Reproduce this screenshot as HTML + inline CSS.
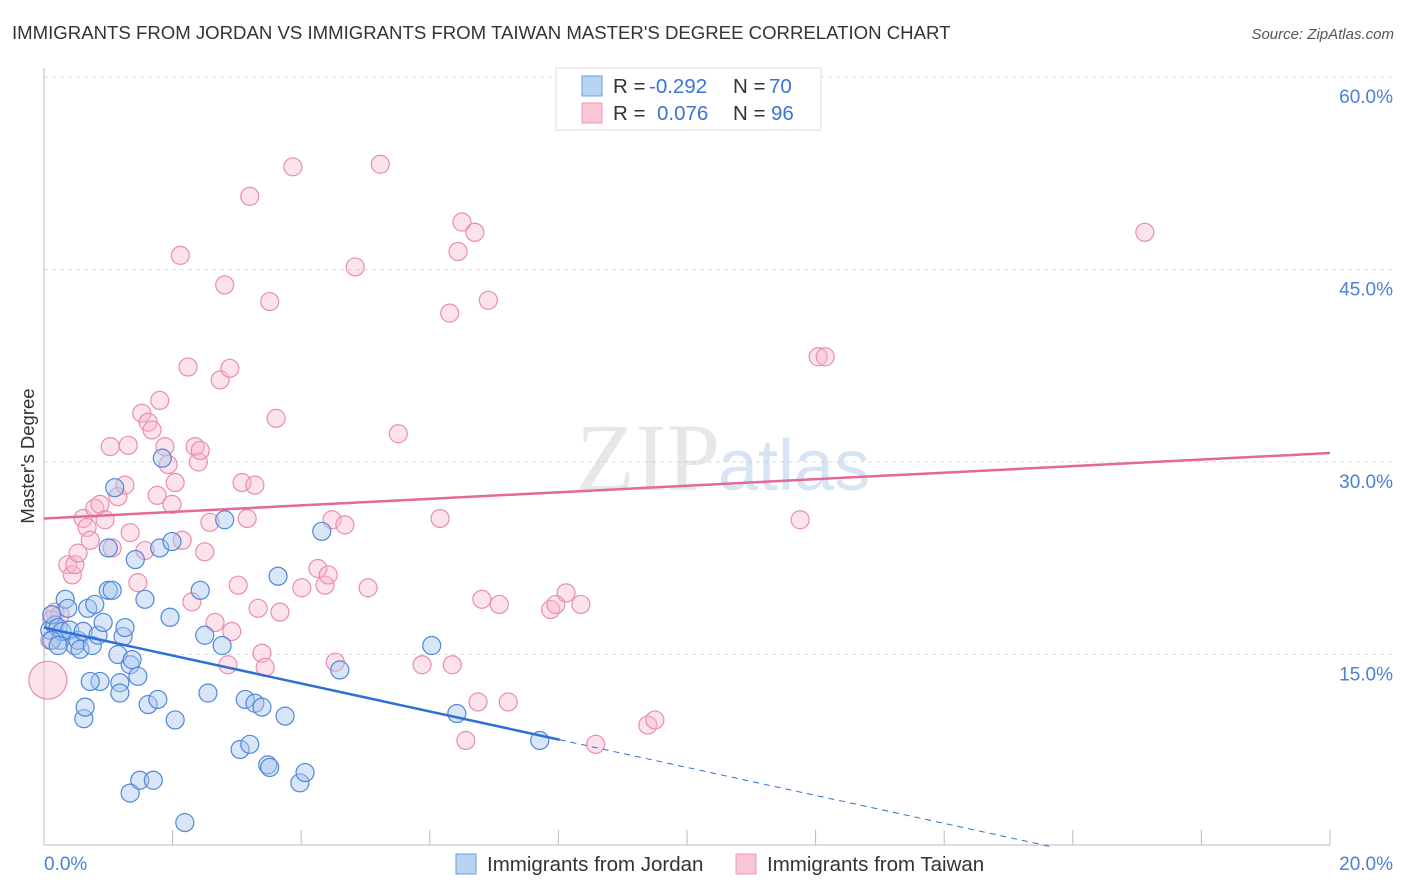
<!DOCTYPE html>
<html><head><meta charset="utf-8"><style>
body{margin:0;background:#fff;font-family:"Liberation Sans",sans-serif;}
svg{display:block}
</style></head><body>
<svg width="1406" height="892" viewBox="0 0 1406 892" xmlns="http://www.w3.org/2000/svg">
<text x="12" y="39" font-size="18.6" fill="#333">IMMIGRANTS FROM JORDAN VS IMMIGRANTS FROM TAIWAN MASTER'S DEGREE CORRELATION CHART</text>
<text x="1394" y="39" font-size="15" fill="#555" font-style="italic" text-anchor="end">Source: ZipAtlas.com</text>
<g id="grid"></g>
<text x="720" y="490" font-size="96" fill="#ccc" opacity="0.45" font-family="Liberation Serif,serif" text-anchor="end">ZIP</text>
<text x="718" y="490" font-size="72" fill="#a8c4e8" opacity="0.45">atlas</text>
<g id="axes"></g>
<g id="pts"></g>
<g id="trends"></g>
<text x="34" y="456" font-size="18.5" fill="#333" text-anchor="middle" transform="rotate(-90 34 456)">Master's Degree</text>
<g>
<rect x="556" y="68" width="265" height="62" fill="#fff" stroke="#ddd"/>
<rect x="582" y="76" width="20" height="20" fill="#b8d4f4" stroke="#6a9ee0"/>
<rect x="582" y="103" width="20" height="20" fill="#f9c6d6" stroke="#ec98b6"/>
<text x="613" y="93" font-size="20.5" fill="#333">R = <tspan x="649" fill="#3a74d4">-0.292</tspan><tspan x="733">N = </tspan><tspan x="769" fill="#3a74d4">70</tspan></text>
<text x="613" y="120" font-size="20.5" fill="#333">R = <tspan x="657" fill="#3a74d4">0.076</tspan><tspan x="733">N = </tspan><tspan x="771" fill="#3a74d4">96</tspan></text>
</g>
<g>
<rect x="456" y="854" width="20" height="20" fill="#b8d4f4" stroke="#6a9ee0"/>
<text x="487" y="871" font-size="20.5" fill="#333">Immigrants from Jordan</text>
<rect x="736" y="854" width="20" height="20" fill="#f9c6d6" stroke="#ec98b6"/>
<text x="767" y="871" font-size="20.5" fill="#333">Immigrants from Taiwan</text>
</g>
</svg>
<script>
const yTicks=[15,30,45,60];
const xTickLabels=["0.0%","20.0%"];
const jordanX=[0.09,0.17,0.25,0.33,0.37,0.12,0.22,0.28,0.40,0.48,0.53,0.56,0.61,0.68,0.75,0.79,0.84,0.87,0.92,1.0,1.0,1.06,1.1,1.15,1.18,1.18,1.23,1.26,1.34,1.37,1.42,1.46,1.57,1.62,1.77,1.8,1.84,1.96,1.99,2.04,1.34,1.49,1.7,2.19,2.43,2.5,2.55,2.81,2.77,3.05,3.13,3.2,3.28,3.39,3.48,3.51,3.64,3.75,3.98,4.06,4.32,4.6,6.03,6.42,7.71,0.62,0.64,0.72,0.12,0.22];
const jordanY=[16.9,17.3,16.1,19.3,18.6,18.1,17.1,16.8,16.9,15.7,16.1,15.4,16.8,18.6,15.7,18.9,16.5,12.9,17.5,23.3,20.0,20.0,28.0,15.0,12.8,12.0,16.4,17.1,14.2,14.6,22.4,13.3,19.3,11.1,11.5,23.3,30.3,17.9,23.8,9.9,4.2,5.2,5.2,1.9,20.0,16.5,12.0,25.5,15.7,7.6,11.5,8.0,11.2,10.9,6.4,6.2,21.1,10.2,5.0,5.8,24.6,13.8,15.7,10.4,8.3,10.0,10.9,12.9,16.1,15.7];
const taiwanX=[.17,.25,.37,.44,.48,.53,.61,.67,.72,.79,.87,.95,1.03,1.06,1.15,1.26,1.31,1.34,1.46,1.52,1.57,1.62,1.68,1.76,1.8,1.88,1.93,1.99,2.04,2.12,2.15,2.24,2.3,2.35,2.4,2.43,2.5,2.58,2.66,2.74,2.81,2.86,2.89,2.92,3.02,3.08,3.16,3.2,3.28,3.33,3.39,3.44,3.51,3.61,3.67,3.87,4.01,4.26,4.37,4.42,4.48,4.53,4.68,4.84,5.04,5.23,5.51,5.88,6.16,6.31,6.35,6.44,6.5,6.56,6.7,6.75,6.81,6.91,7.08,7.22,7.88,7.96,8.12,8.35,8.58,9.39,9.5,11.76,12.04,12.15,17.12,.06,.09,.12];
const taiwanY=[18.3,18.1,22.0,21.2,22.0,22.9,25.6,24.9,23.9,26.4,26.7,25.5,31.2,23.3,27.3,28.2,31.3,24.5,20.6,33.8,23.1,33.1,32.5,27.4,34.8,31.2,29.8,26.7,28.4,46.1,23.9,37.4,19.1,31.2,30.0,30.9,23.0,25.3,17.5,36.4,43.8,14.2,37.3,16.8,20.4,28.4,25.6,50.7,28.2,18.6,15.1,14.0,42.5,33.4,18.3,53.0,20.2,21.7,20.4,21.2,25.5,14.4,25.1,45.2,20.2,53.2,32.2,14.2,25.6,41.6,14.2,46.4,48.7,8.3,47.9,11.3,19.3,42.6,18.9,11.3,18.5,18.9,19.8,18.9,8.0,9.5,9.9,25.5,38.2,38.2,47.9,13.0,16.1,17.7];
const taiwanBig=[0,0,0,0,0,0,0,0,0,0,0,0,0,0,0,0,0,0,0,0,0,0,0,0,0,0,0,0,0,0,0,0,0,0,0,0,0,0,0,0,0,0,0,0,0,0,0,0,0,0,0,0,0,0,0,0,0,0,0,0,0,0,0,0,0,0,0,0,0,0,0,0,0,0,0,0,0,0,0,0,0,0,0,0,0,0,0,0,0,0,0,1,0,0];
const jordanTrend=[17.1,-4.7]; const jordanSolidEnd=8.02;
const taiwanTrend=[25.6,30.7];
const NS="http://www.w3.org/2000/svg";
const X=v=>44+v/20*1286, Y=v=>847-v/15*192.5;
function mk(t,a,p){const e=document.createElementNS(NS,t);for(const k in a)e.setAttribute(k,a[k]);p.appendChild(e);return e;}
const grid=document.getElementById('grid');
yTicks.forEach(t=>{
 const l=mk('line',{x1:44,x2:1393,y1:Y(t),y2:Y(t),stroke:'#ddd','stroke-dasharray':'4 4'},grid);
 
 
 const tx=mk('text',{x:1393,y:Y(t)+26,'font-size':19,fill:'#4a80d8','text-anchor':'end'},grid);
 tx.textContent=t.toFixed(1)+'%';
 
 
});
const ax=document.getElementById('axes');
mk('line',{x1:44,x2:44,y1:68,y2:845,stroke:'#bbb'},ax);
mk('line',{x1:44,x2:1330,y1:845,y2:845,stroke:'#bbb'},ax);
for(let i=0;i<=10;i++){mk('line',{x1:X(i*2),x2:X(i*2),y1:830,y2:845,stroke:'#bbb'},ax);}
xTickLabels.forEach((s,i)=>{const t=mk('text',{x:i?1393:44,y:870,'font-size':19,fill:'#4a80d8','text-anchor':i?'end':'start'},ax);t.textContent=s;
 
 });
const pts=document.getElementById('pts');
taiwanX.forEach((v,i)=>{const c=mk('circle',{cx:X(v),cy:Y(taiwanY[i]),r:taiwanBig[i]?19:9,fill:'#f7b6cb','fill-opacity':0.4,stroke:'#e98db0','stroke-width':1.2},pts);
 
 });
jordanX.forEach((v,i)=>{const c=mk('circle',{cx:X(v),cy:Y(jordanY[i]),r:9,fill:'#a9c8f0','fill-opacity':0.45,stroke:'#4f88d8','stroke-width':1.2},pts);
 
 });
const tr=document.getElementById('trends');
const jy=x=>jordanTrend[0]+(jordanTrend[1]-jordanTrend[0])*x/20;
const l1=mk('line',{x1:X(0),y1:Y(jy(0)),x2:X(jordanSolidEnd),y2:Y(jy(jordanSolidEnd)),stroke:'#2f6fd6','stroke-width':2.5},tr);


const zx=-jordanTrend[0]/(jordanTrend[1]-jordanTrend[0])*20;
const l2=mk('line',{x1:X(jordanSolidEnd),y1:Y(jy(jordanSolidEnd)),x2:X(zx),y2:Y(0),stroke:'#2f6fd6','stroke-width':1,'stroke-dasharray':'6 5'},tr);


const l3=mk('line',{x1:X(0),y1:Y(taiwanTrend[0]),x2:X(20),y2:Y(taiwanTrend[1]),stroke:'#e4689a','stroke-width':2.5},tr);


</script>
</body></html>
